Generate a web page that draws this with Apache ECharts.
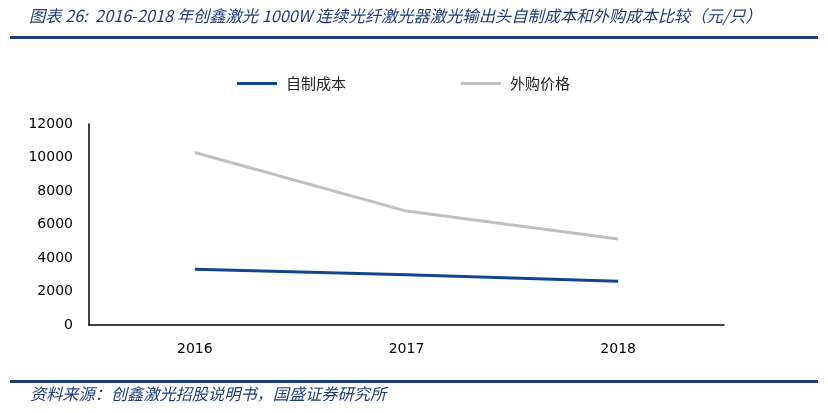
<!DOCTYPE html>
<html><head><meta charset="utf-8">
<script src="https://cdn.jsdelivr.net/npm/echarts@6/dist/echarts.min.js"></script>
<style>html,body{margin:0;padding:0;background:#fff}#c{width:828px;height:413px}</style>
</head><body><div id="c"></div>
<script>
var categories = ['2016', '2017', '2018'];
var selfMadeCost = [3330, 3000, 2610];
var purchasePrice = [10300, 6800, 5130];
var seriesNames = ['自制成本', '外购价格'];
var titleText = '图表 26:  2016-2018 年创鑫激光 1000W 连续光纤激光器激光输出头自制成本和外购成本比较（元/只）';
var sourceText = '资料来源：创鑫激光招股说明书，国盛证券研究所';

var chart = echarts.init(document.getElementById('c'));
chart.setOption({
  animation: false,
  backgroundColor: '#fff',
  graphic: [
    {type: 'text', left: 29, top: 8, style: {text: titleText, font: 'italic 16.3px "Noto Sans CJK SC", sans-serif', fill: '#1f3d7a'}},
    {type: 'rect', shape: {x: 10, y: 36, width: 808, height: 3}, style: {fill: '#1f3d7a'}},
    {type: 'rect', shape: {x: 10, y: 380, width: 808, height: 3}, style: {fill: '#1f3d7a'}},
    {type: 'text', left: 30, top: 386, style: {text: sourceText, font: 'italic 16.2px "Noto Sans CJK SC", sans-serif', fill: '#1f3d7a'}}
  ],
  legend: {
    top: 71, left: 232,
    itemWidth: 40, itemHeight: 3, itemGap: 115,
    icon: 'rect',
    textStyle: {fontFamily: '"Noto Sans CJK SC", sans-serif', fontSize: 15, color: '#222', padding: [0, 0, 0, 4]},
    data: seriesNames
  },
  grid: {left: 89, right: 104, top: 124, bottom: 88},
  xAxis: {
    type: 'category', data: categories, boundaryGap: true,
    axisLine: {lineStyle: {color: '#000', width: 1.5}},
    axisTick: {inside: true, length: 5, lineStyle: {color: '#000'}},
    axisLabel: {color: '#000', fontFamily: 'DejaVu Sans', fontSize: 14, margin: 17}
  },
  yAxis: {
    type: 'value', min: 0, max: 12000, interval: 2000,
    axisLine: {show: true, lineStyle: {color: '#000', width: 1.5}},
    axisTick: {show: false},
    splitLine: {show: false},
    axisLabel: {color: '#000', fontFamily: 'DejaVu Sans', fontSize: 14, margin: 16, formatter: function (v) { return String(v); }}
  },
  series: [
    {name: seriesNames[0], type: 'line', data: selfMadeCost, symbol: 'none', lineStyle: {color: '#124590', width: 3}, itemStyle: {color: '#124590'}},
    {name: seriesNames[1], type: 'line', data: purchasePrice, symbol: 'none', lineStyle: {color: '#c0c0c0', width: 3}, itemStyle: {color: '#c0c0c0'}}
  ]
});
</script></body></html>
